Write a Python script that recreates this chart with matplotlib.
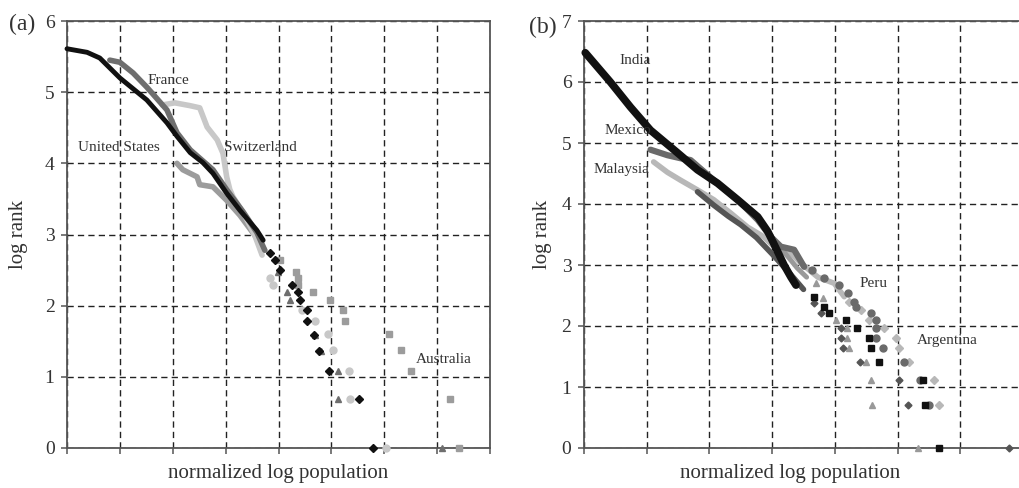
import matplotlib
matplotlib.use("Agg")
import matplotlib.pyplot as plt

plt.rcParams['font.family'] = ['Liberation Serif', 'DejaVu Serif']

# ---- panel (a): developed countries ----
us_head_x = [0, 0.38, 0.62, 1.0, 1.51, 1.89, 2.08, 2.33, 2.57, 2.76, 3.02, 3.27, 3.59, 3.71]
us_head_y = [5.61, 5.56, 5.48, 5.20, 4.89, 4.57, 4.38, 4.15, 4.01, 3.86, 3.58, 3.34, 3.06, 2.92]
us_tail_x = [3.84, 3.93, 4.03, 4.25, 4.37, 4.40, 4.54, 4.54, 4.67, 4.76, 4.95, 5.52, 5.78]
us_tail_y = [2.74, 2.64, 2.50, 2.29, 2.19, 2.08, 1.94, 1.78, 1.59, 1.36, 1.08, 0.69, 0.0]

fr_head_x = [0.81, 1.0, 1.25, 1.51, 1.89, 2.08, 2.33, 2.76, 3.02, 3.33, 3.59, 3.74]
fr_head_y = [5.45, 5.42, 5.27, 5.07, 4.75, 4.43, 4.19, 3.91, 3.63, 3.32, 3.03, 2.78]
fr_tail_x = [3.99, 4.16, 4.22, 4.69, 4.80, 5.12, 5.12, 7.09]
fr_tail_y = [2.47, 2.19, 2.08, 1.59, 1.36, 1.08, 0.69, 0.0]

sw_head_x = [1.80, 2.04, 2.33, 2.51, 2.65, 2.84, 2.95, 3.02, 3.08, 3.14, 3.36, 3.55, 3.69]
sw_head_y = [4.82, 4.85, 4.81, 4.78, 4.51, 4.33, 4.14, 3.81, 3.63, 3.53, 3.27, 2.99, 2.71]
sw_tail_x = [3.84, 3.89, 4.44, 4.69, 4.93, 5.03, 5.33, 5.35, 6.03]
sw_tail_y = [2.39, 2.29, 1.94, 1.78, 1.60, 1.38, 1.08, 0.69, 0.0]

au_head_x = [2.08, 2.19, 2.46, 2.51, 2.76, 3.02, 3.27, 3.55, 3.74]
au_head_y = [4.00, 3.91, 3.81, 3.70, 3.67, 3.48, 3.27, 2.99, 2.78]
au_tail_x = [4.03, 4.33, 4.37, 4.37, 4.65, 4.97, 5.22, 5.26, 6.09, 6.31, 6.50, 7.24, 7.41]
au_tail_y = [2.64, 2.47, 2.39, 2.29, 2.19, 2.08, 1.94, 1.78, 1.60, 1.38, 1.08, 0.69, 0.0]

# ---- panel (b): developing countries ----
in_head_x = [0.02, 0.42, 0.74, 1.06, 1.49, 1.81, 2.13, 2.45, 2.77, 2.93, 3.05, 3.19, 3.30, 3.38]
in_head_y = [6.48, 6.00, 5.59, 5.21, 4.84, 4.56, 4.34, 4.07, 3.79, 3.55, 3.30, 3.00, 2.80, 2.67]
in_tail_x = [3.67, 3.83, 3.91, 4.17, 4.36, 4.55, 4.58, 4.71, 5.40, 5.43, 5.66]
in_tail_y = [2.48, 2.31, 2.21, 2.10, 1.97, 1.80, 1.64, 1.41, 1.11, 0.70, 0.0]

mx_head_x = [1.06, 1.33, 1.54, 1.70, 2.07, 2.45, 2.77, 2.98, 3.14, 3.35, 3.51]
mx_head_y = [4.89, 4.80, 4.75, 4.72, 4.39, 4.07, 3.74, 3.46, 3.30, 3.25, 2.97]
mx_tail_x = [3.64, 3.83, 4.07, 4.21, 4.31, 4.34, 4.57, 4.65, 4.66, 4.66, 4.76, 5.10, 5.35, 5.50]
mx_tail_y = [2.92, 2.79, 2.67, 2.54, 2.39, 2.31, 2.21, 2.10, 1.97, 1.80, 1.64, 1.41, 1.11, 0.70]

my_head_x = [1.11, 1.33, 1.54, 1.81, 2.07, 2.34, 2.61, 2.87, 3.03, 3.25, 3.46, 3.73, 3.99, 4.15]
my_head_y = [4.69, 4.52, 4.39, 4.23, 4.07, 3.85, 3.62, 3.46, 3.30, 3.25, 3.03, 2.80, 2.70, 2.48]
my_tail_x = [4.23, 4.42, 4.55, 4.79, 4.97, 5.02, 5.19, 5.58, 5.66]
my_tail_y = [2.39, 2.26, 2.10, 1.97, 1.80, 1.64, 1.41, 1.11, 0.70]

pe_head_x = [3.00, 3.20, 3.40, 3.55]
pe_head_y = [3.45, 3.20, 2.95, 2.80]
pe_tail_x = [3.70, 3.81, 4.02, 4.20, 4.20, 4.23, 4.50, 4.58, 4.60, 5.32]
pe_tail_y = [2.70, 2.46, 2.10, 1.97, 1.80, 1.64, 1.41, 1.11, 0.70, 0.0]

ar_head_x = [1.81, 2.07, 2.30, 2.50, 2.75, 3.00, 3.25, 3.50]
ar_head_y = [4.20, 3.98, 3.80, 3.66, 3.45, 3.18, 2.90, 2.60]
ar_tail_x = [3.67, 3.78, 4.09, 4.10, 4.13, 4.40, 5.03, 5.16, 6.78]
ar_tail_y = [2.38, 2.21, 1.97, 1.80, 1.64, 1.41, 1.11, 0.70, 0.0]

W, H = 1019, 488
fig = plt.figure(figsize=(W / 100, H / 100), dpi=100)
axA = fig.add_axes([67 / W, 40 / H, 423 / W, 427 / H])
axB = fig.add_axes([584 / W, 40 / H, 439 / W, 427 / H])

def style(ax, xmax, ymax):
    ax.set_xlim(0, xmax); ax.set_ylim(0, ymax)
    ax.set_xticks(range(0, xmax + 1)); ax.set_xticklabels([])
    ax.set_yticks(range(0, ymax + 1))
    ax.tick_params(axis="both", direction="out", length=4, width=1.1, color="#555555",
                   labelsize=14, labelcolor="#333333", pad=5)
    ax.grid(True, color="#222222", lw=1.0, ls=(0, (4.5, 3)))
    ax.set_axisbelow(True)
    for s in ax.spines.values():
        s.set_color("#555555"); s.set_linewidth(1.3)
    ax.set_xlabel("normalized log population", fontsize=15, color="#333333")
    ax.set_ylabel("log rank", fontsize=15, color="#333333")

def series(ax, hx, hy, tx, ty, color, marker, lw, ms, z):
    ax.plot(hx, hy, color=color, lw=lw, solid_capstyle="round", solid_joinstyle="round",
            zorder=z, clip_on=False)
    ax.plot(tx, ty, ls="none", marker=marker, ms=ms, color=color, mec=color,
            zorder=z, clip_on=False)

style(axA, 8, 6)
series(axA, au_head_x, au_head_y, au_tail_x, au_tail_y, "#9c9c9c", "s", 4.0, 5.0, 3)
series(axA, sw_head_x, sw_head_y, sw_tail_x, sw_tail_y, "#c8c8c8", "o", 4.0, 5.0, 4)
series(axA, fr_head_x, fr_head_y, fr_tail_x, fr_tail_y, "#6e6e6e", "^", 4.0, 5.0, 5)
series(axA, us_head_x, us_head_y, us_tail_x, us_tail_y, "#111111", "D", 3.5, 3.8, 6)
axA.xaxis.set_label_coords(0.5, -0.037)
axA.yaxis.set_label_coords(-0.092, 0.5)
for txt, x, y in [("France", 1.91, 5.16), ("United States", 0.98, 4.22),
                  ("Switzerland", 3.65, 4.22), ("Australia", 7.13, 1.25)]:
    axA.text(x, y, txt, fontsize=11, color="#333333", ha="center", va="center", zorder=8)

style(axB, 7, 7)
series(axB, my_head_x, my_head_y, my_tail_x, my_tail_y, "#b8b8b8", "D", 4.0, 4.0, 3)
series(axB, pe_head_x, pe_head_y, pe_tail_x, pe_tail_y, "#999999", "^", 3.5, 5.0, 4)
series(axB, ar_head_x, ar_head_y, ar_tail_x, ar_tail_y, "#555555", "D", 4.0, 3.5, 5)
series(axB, mx_head_x, mx_head_y, mx_tail_x, mx_tail_y, "#6a6a6a", "o", 4.5, 5.0, 5)
series(axB, in_head_x, in_head_y, in_tail_x, in_tail_y, "#111111", "s", 5.5, 4.5, 6)
axB.xaxis.set_label_coords(0.469, -0.037)
axB.yaxis.set_label_coords(-0.073, 0.5)
for txt, x, y in [("India", 0.82, 6.36), ("Mexico", 0.70, 5.21), ("Malaysia", 0.60, 4.56),
                  ("Peru", 4.62, 2.70), ("Argentina", 5.79, 1.77)]:
    axB.text(x, y, txt, fontsize=11, color="#333333", ha="center", va="center", zorder=8)

fig.text(22 / W, 1 - 24 / H, "(a)", fontsize=17, color="#333333", ha="center", va="center")
fig.text(543 / W, 1 - 27 / H, "(b)", fontsize=17, color="#333333", ha="center", va="center")

fig.savefig("out.png", dpi=100)
